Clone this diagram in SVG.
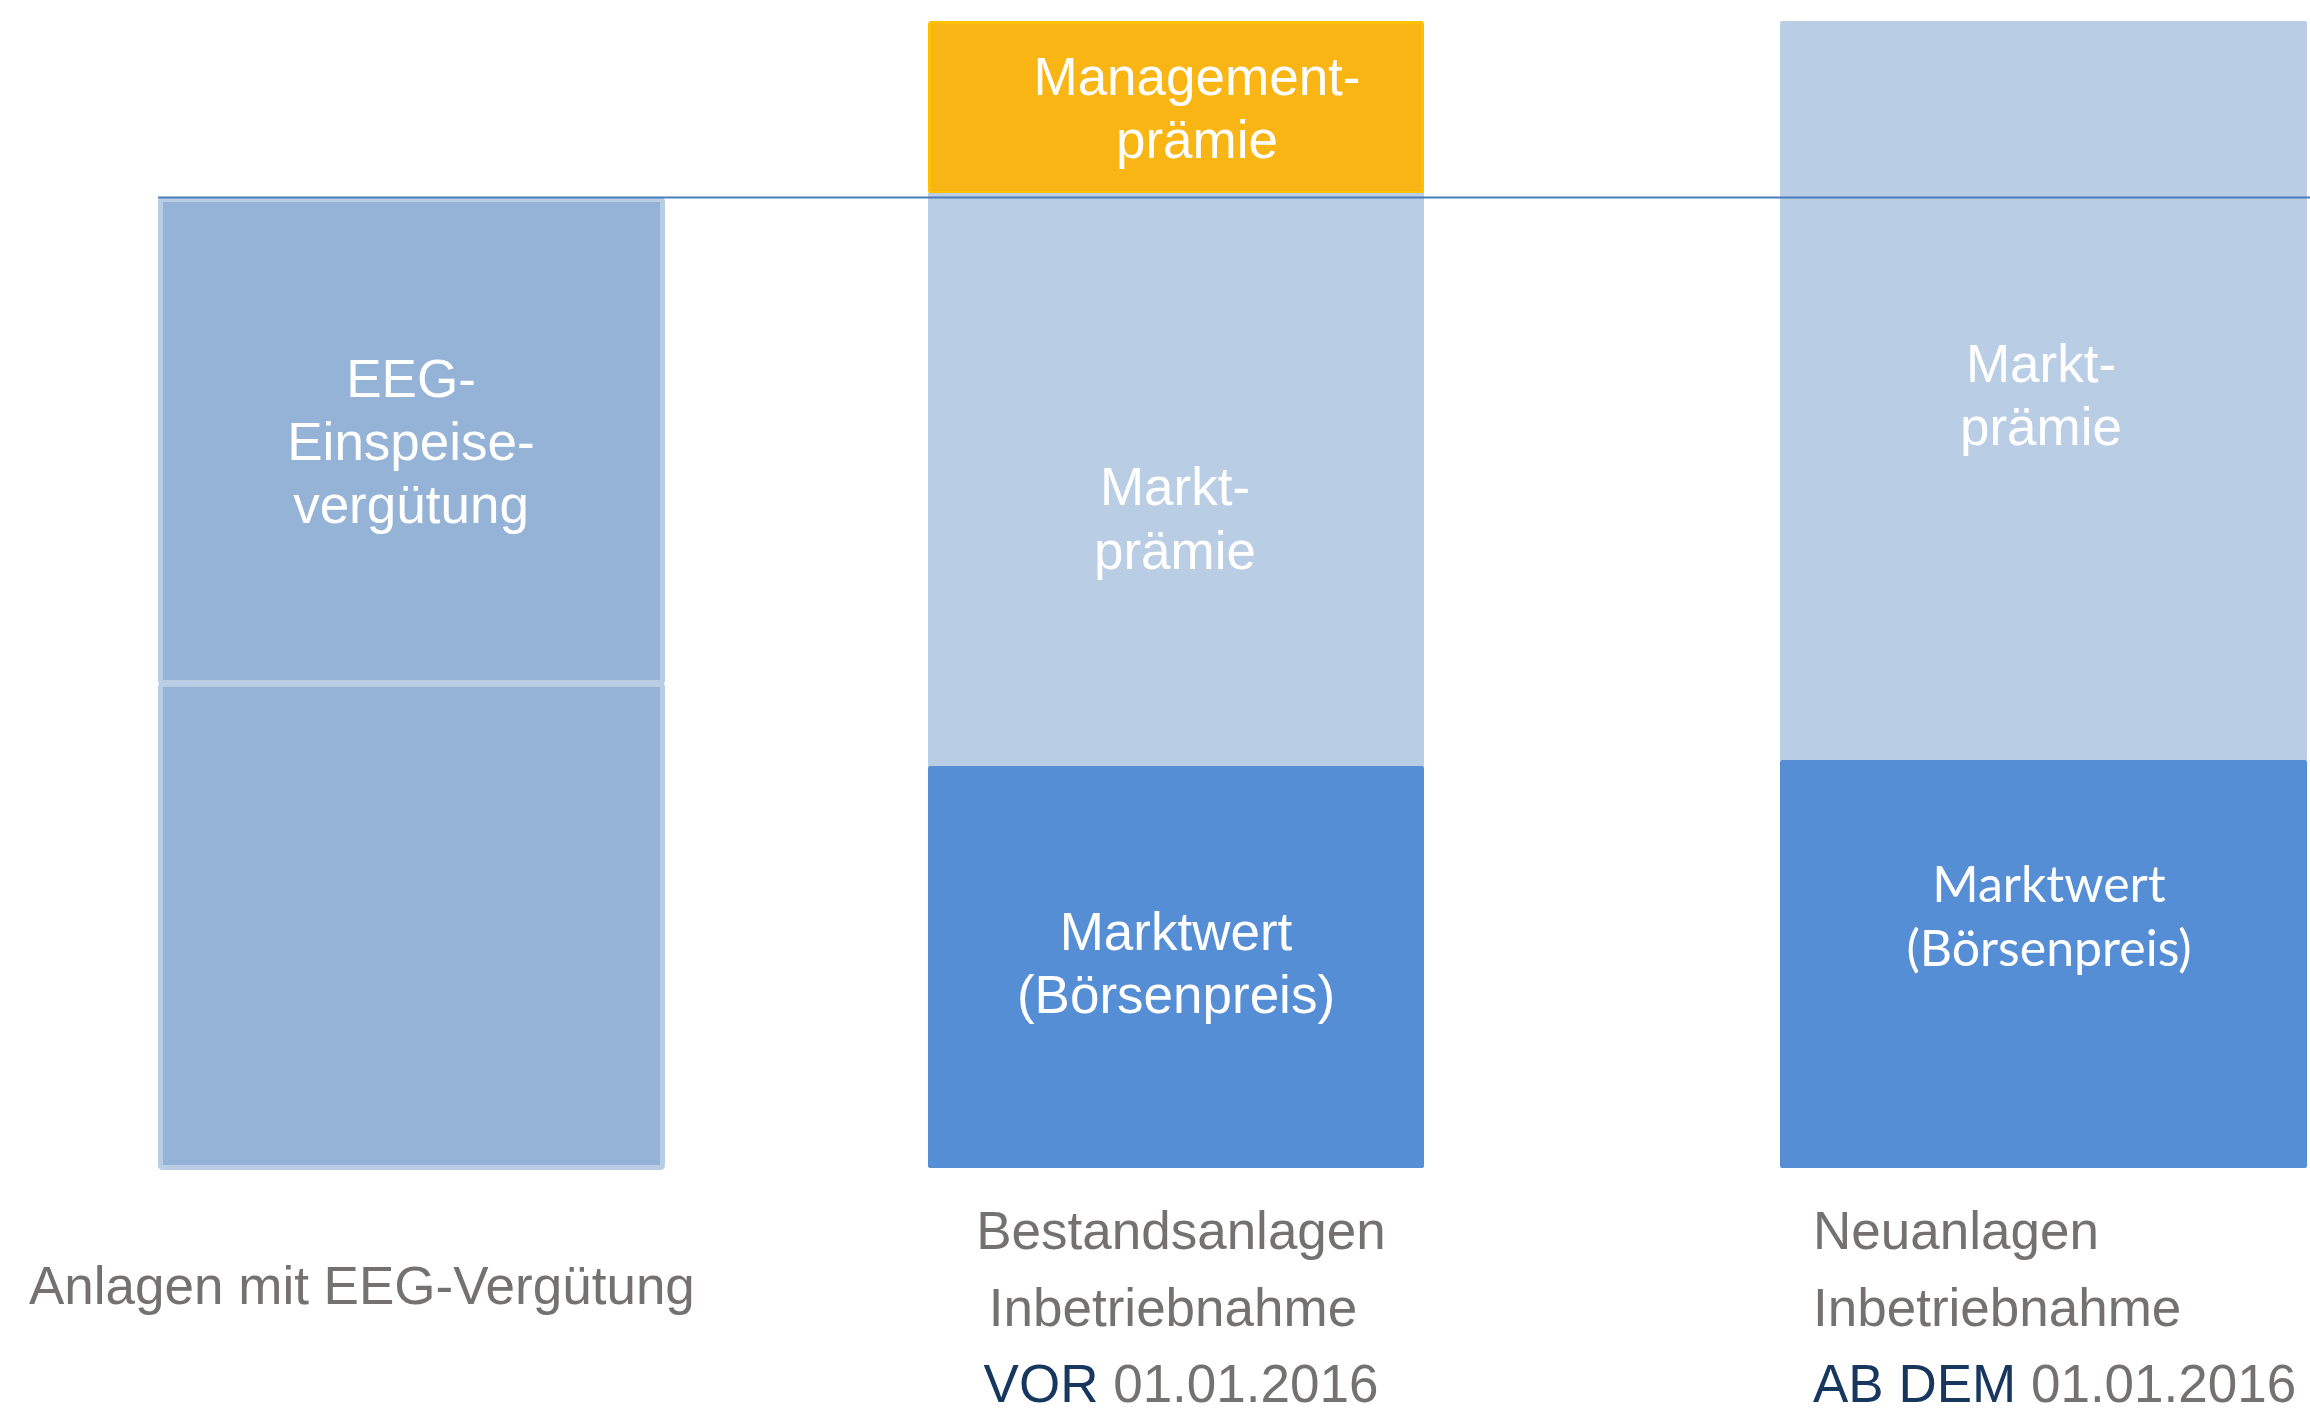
<svg xmlns="http://www.w3.org/2000/svg" width="2310" height="1409" viewBox="0 0 2310 1409">
<style>
.w{fill:#FFFFFF;font-family:"Liberation Sans",Arial,sans-serif;font-size:53px;text-anchor:middle}
.c{fill:#FFFFFF;font-family:Lato,"Open Sans",sans-serif;font-size:50px;text-anchor:middle}
.g{fill:#767171;font-family:"Liberation Sans",Arial,sans-serif;font-size:53px}
.b{fill:#17375E}
.eeg{fill:#95B3D7;stroke:#B9CDE5;stroke-width:5}
.light{fill:#B9CDE5}
.dark{fill:#558ED5}
</style>
<rect width="2310" height="1409" fill="#FFFFFF"/>
<g id="eeg-top">
<rect class="eeg" x="160.5" y="199.5" width="502" height="483" rx="2"/>
<text class="w" x="411" y="397">EEG-</text>
<text class="w" x="411" y="460">Einspeise-</text>
<text class="w" x="411" y="523">vergütung</text>
</g>
<g id="eeg-bottom">
<rect class="eeg" x="160.5" y="684.5" width="502" height="483" rx="2"/>
</g>
<g id="management">
<rect x="929.5" y="22.5" width="493" height="170" rx="2" fill="#F8B514" stroke="#FFC000" stroke-width="3"/>
<text class="w" x="1197" y="95">Management-</text>
<text class="w" x="1197" y="158">prämie</text>
</g>
<g id="marktpraemie-alt">
<rect class="light" x="928" y="193" width="496" height="574"/>
<text class="w" x="1175" y="505">Markt-</text>
<text class="w" x="1175" y="569">prämie</text>
</g>
<g id="marktwert-alt">
<rect class="dark" x="928" y="766" width="496" height="402" rx="2"/>
<text class="w" x="1176" y="950">Marktwert</text>
<text class="w" x="1176" y="1013">(Börsenpreis)</text>
</g>
<g id="marktpraemie-neu">
<rect class="light" x="1780" y="21" width="527" height="740" rx="2"/>
<text class="w" x="2041" y="382">Markt-</text>
<text class="w" x="2041" y="445">prämie</text>
</g>
<g id="marktwert-neu">
<rect class="dark" x="1780" y="760" width="527" height="408" rx="2"/>
<text class="c" x="2049" y="902">Marktwert</text>
<text class="c" x="2049" y="966">(Börsenpreis)</text>
</g>
<g id="label-eeg">
<text class="g" x="29" y="1304">Anlagen mit EEG-Vergütung</text>
</g>
<g id="label-bestand">
<text class="g" x="1181" y="1249" text-anchor="middle">Bestandsanlagen</text>
<text class="g" x="1173" y="1326" text-anchor="middle">Inbetriebnahme</text>
<text class="g" x="1181" y="1402" text-anchor="middle"><tspan class="b">VOR</tspan> 01.01.2016</text>
</g>
<g id="label-neu">
<text class="g" x="1813" y="1249">Neuanlagen</text>
<text class="g" x="1813" y="1326">Inbetriebnahme</text>
<text class="g" x="1813" y="1402"><tspan class="b">AB DEM</tspan> 01.01.2016</text>
</g>
<g id="connectors">
<line x1="158" y1="197.5" x2="2310" y2="197.5" stroke="#4A7EBB" stroke-width="2"/>
</g>
</svg>
